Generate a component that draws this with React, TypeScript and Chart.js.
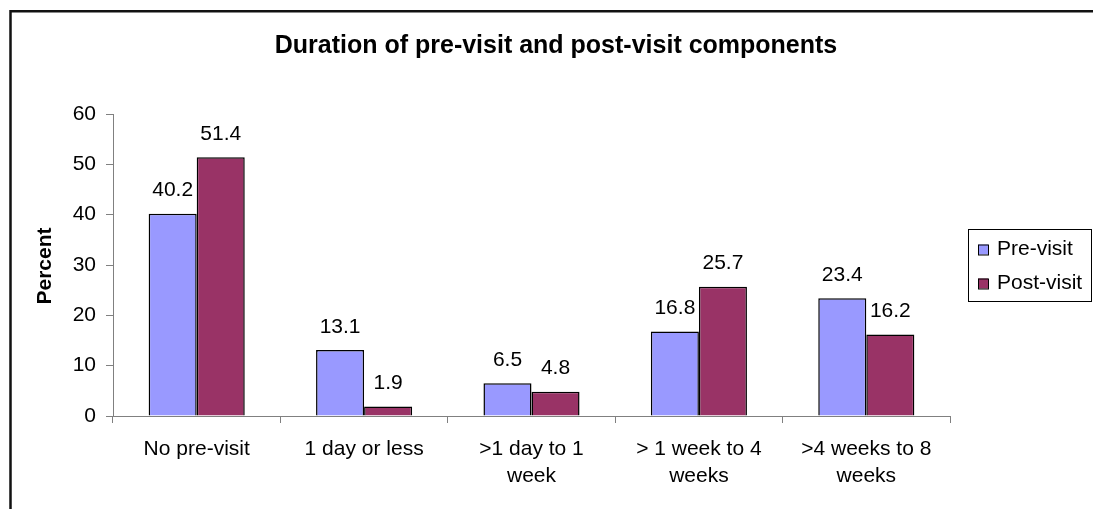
import { useEffect, useRef } from "react";
import { Chart, registerables } from "chart.js";

Chart.register(...registerables);

const FONT = '"Liberation Sans", Arial, Helvetica, sans-serif';

const categories: string[][] = [
  ["No pre-visit"],
  ["1 day or less"],
  [">1 day to 1", "week"],
  ["> 1 week to 4", "weeks"],
  [">4 weeks to 8", "weeks"],
];
const preVisit = [40.2, 13.1, 6.5, 16.8, 23.4];
const postVisit = [51.4, 1.9, 4.8, 25.7, 16.2];
const seriesNames = ["Pre-visit", "Post-visit"];
const seriesColors = ["#9999FF", "#993366"];
const yMin = 0;
const yMax = 60;
const yStep = 10;
const titleText = "Duration of pre-visit and post-visit components";
const yTitle = "Percent";

export default function App() {
  const ref = useRef<HTMLCanvasElement | null>(null);

  useEffect(() => {
    document.body.style.margin = "0";
    const canvas = ref.current;
    if (!canvas) return;

    const framePlugin = {
      id: "frame",
      beforeDraw(chart: any) {
        const ctx = chart.ctx;
        ctx.save();
        ctx.fillStyle = "#ffffff";
        ctx.fillRect(0, 0, chart.width, chart.height);
        ctx.strokeStyle = "#111111";
        ctx.lineWidth = 2.5;
        ctx.beginPath();
        ctx.moveTo(10.5, chart.height + 5);
        ctx.lineTo(10.5, 11.2);
        ctx.lineTo(chart.width + 5, 11.2);
        ctx.stroke();
        ctx.restore();
      },
    };

    const decorPlugin = {
      id: "decor",
      afterDatasetsDraw(chart: any) {
        const ctx = chart.ctx;
        ctx.save();
        ctx.fillStyle = "#000";
        ctx.font = `21px ${FONT}`;
        ctx.textAlign = "center";
        ctx.textBaseline = "alphabetic";
        chart.data.datasets.forEach((ds: any, di: number) => {
          const meta = chart.getDatasetMeta(di);
          meta.data.forEach((bar: any, i: number) => {
            ctx.fillText(String(ds.data[i]), bar.x, bar.y - 17.5);
          });
        });
        ctx.restore();
      },
      afterDraw(chart: any) {
        const ctx = chart.ctx;
        ctx.save();
        // title
        ctx.fillStyle = "#000";
        ctx.font = `bold 25px ${FONT}`;
        ctx.textAlign = "center";
        ctx.textBaseline = "middle";
        ctx.fillText(titleText, 556, 46);
        // y title
        ctx.save();
        ctx.translate(45, 266);
        ctx.rotate(-Math.PI / 2);
        ctx.font = `bold 21px ${FONT}`;
        ctx.fillText(yTitle, 0, 0);
        ctx.restore();
        // legend
        ctx.strokeStyle = "#000";
        ctx.lineWidth = 1;
        ctx.strokeRect(968.5, 229.5, 123, 72);
        ctx.font = `21px ${FONT}`;
        ctx.textAlign = "left";
        ctx.textBaseline = "middle";
        chart.data.datasets.forEach((ds: any, di: number) => {
          const cy = 249.5 + di * 34;
          ctx.fillStyle = ds.backgroundColor;
          ctx.fillRect(978, cy - 5, 10, 10);
          ctx.strokeRect(978.5, cy - 4.5, 10, 10);
          ctx.fillStyle = "#000";
          ctx.fillText(ds.label, 997, cy);
        });
        ctx.restore();
      },
    };

    const chart = new Chart(canvas, {
      type: "bar",
      data: {
        labels: categories,
        datasets: [
          {
            label: seriesNames[0],
            data: preVisit,
            backgroundColor: seriesColors[0],
            borderColor: "#000",
            borderWidth: 1.5,
            categoryPercentage: 0.574,
            barPercentage: 1,
          },
          {
            label: seriesNames[1],
            data: postVisit,
            backgroundColor: seriesColors[1],
            borderColor: "#000",
            borderWidth: 1.5,
            categoryPercentage: 0.574,
            barPercentage: 1,
          },
        ],
      },
      options: {
        responsive: false,
        animation: false,
        devicePixelRatio: 1,
        layout: { padding: { left: 0, top: 114, right: 143, bottom: 0 } },
        plugins: {
          legend: { display: false },
          title: { display: false },
          tooltip: { enabled: false },
        },
        scales: {
          x: {
            afterFit(scale: any) {
              scale.height = 93;
            },
            border: { display: true, color: "#808080", width: 1 },
            grid: {
              display: true,
              drawOnChartArea: false,
              drawTicks: true,
              tickLength: 7,
              color: "#808080",
              offset: true,
            },
            ticks: {
              color: "#000",
              padding: 12,
              maxRotation: 0,
              autoSkip: false,
              font: { family: FONT, size: 21, lineHeight: 1.32 },
            },
          },
          y: {
            min: yMin,
            max: yMax,
            afterFit(scale: any) {
              scale.width = 113;
            },
            border: { display: true, color: "#808080", width: 1 },
            grid: {
              display: true,
              drawOnChartArea: false,
              drawTicks: true,
              tickLength: 7,
              color: "#808080",
            },
            ticks: {
              stepSize: yStep,
              color: "#000",
              padding: 10,
              font: { family: FONT, size: 21 },
            },
          },
        },
      },
      plugins: [framePlugin, decorPlugin],
    });

    return () => chart.destroy();
  }, []);

  return (
    <div style={{ width: 1093, height: 509, position: "relative" }}>
      <canvas ref={ref} width={1093} height={509} style={{ display: "block" }} />
    </div>
  );
}
